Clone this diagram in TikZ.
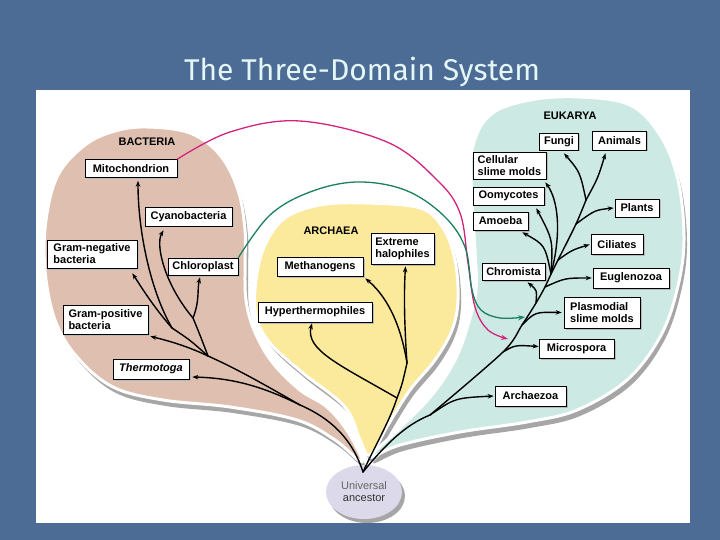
\documentclass[tikz,border=0pt]{standalone}
\usepackage{fontspec}
\setmainfont{Liberation Sans}
\newfontfamily\titlefont{Fira Sans}
\usetikzlibrary{arrows.meta,shapes.geometric,shadows}
\definecolor{bgblue}{HTML}{4C6C96}
\definecolor{titlec}{HTML}{E4F6F6}
\definecolor{bactc}{HTML}{DFC0B0}
\definecolor{archc}{HTML}{FBE99C}
\definecolor{eukc}{HTML}{CDE9E3}
\definecolor{ancc}{HTML}{DCD9EA}
\definecolor{shadc}{HTML}{A6A6A6}
\definecolor{magc}{HTML}{D4237D}
\definecolor{grnc}{HTML}{1B8060}
\tikzset{
  box/.style={draw=black, line width=0.6pt, fill=white, inner sep=0pt, align=left,
    font=\fontsize{11}{12}\selectfont\bfseries,
    general shadow={fill=gray!55, shadow xshift=1.5pt, shadow yshift=-1.5pt}},
  sz/.style 2 args={minimum width=#1pt, minimum height=#2pt},
  domlbl/.style={font=\fontsize{11}{12}\selectfont\bfseries, inner sep=0pt},
  tree/.style={line width=1.4pt, black, line cap=round, line join=round},
  arr/.style={tree, -{Stealth[length=6pt,width=4.5pt]}},
  blob/.style={draw=white, line width=3pt, line join=round}
}
\begin{document}
\begin{tikzpicture}[x=1pt,y=-1pt]
\useasboundingbox (0,0) rectangle (720,540);
\fill[bgblue] (0,0) rectangle (720,540);
\node[font=\titlefont\fontsize{30}{36}\selectfont, text=titlec] (title) at (362,72) {The Three-Domain System};
\fill[white] (36,90) rectangle (690,523);

% bacteria
\path[blob, fill=bactc, preaction={fill=shadc, transform canvas={shift={(3pt,-6pt)}}}]
  plot[smooth cycle, tension=0.6] coordinates {(147,127) (190,133) (220,155) (238,190) (245,230) (245,265) (246,300) (254,330) (272,362) (300,390) (327,407) (348,432) (362,462) (335,440) (297,420) (230,407) (163,400) (113,387) (77,357) (55,320) (45,270) (46,220) (58,175) (85,145) (115,131)};
% archaea
\path[blob, fill=archc, preaction={fill=shadc, transform canvas={shift={(3pt,-6pt)}}}]
  plot[smooth cycle, tension=0.6] coordinates {(365,203) (420,208) (443,228) (455,260) (458,300) (452,330) (435,360) (410,390) (388,425) (370,455) (360,440) (345,407) (303,373) (270,343) (256,315) (256,280) (265,245) (285,218) (320,205)};
% eukarya
\path[blob, fill=eukc, preaction={fill=shadc, transform canvas={shift={(3pt,-6pt)}}}]
  plot[smooth cycle, tension=0.6] coordinates {(472,150) (490,115) (530,100) (580,97) (630,105) (660,135) (678,180) (684,240) (677,290) (660,337) (627,380) (577,410) (527,422) (460,432) (400,445) (370,457) (400,428) (432,395) (455,360) (468,325) (476,290) (475,250) (472,200)};

% ancestor
\node[ellipse, fill=ancc, minimum width=76pt, minimum height=54pt, inner sep=0pt,
  general shadow={fill=shadc, shadow xshift=3pt, shadow yshift=-4pt},
  font=\fontsize{11}{12}\selectfont, text=black!80, align=center] (anc) at (364,492)
  {\textcolor{black!60}{Universal}\\ancestor};

% domain labels
\node[domlbl] (bact) at (147,142) {BACTERIA};
\node[domlbl] (arch) at (331,231) {ARCHAEA};
\node[domlbl] (euk) at (570,116) {EUKARYA};

% bacteria boxes
\node[box, sz={92}{18}] (mito) at (131,168.5) {Mitochondrion};
\node[box, sz={87}{19}] (cyano) at (188.5,216.5) {Cyanobacteria};
\node[box, sz={90}{28}] (gneg) at (92,254) {Gram-negative\\bacteria};
\node[box, sz={70}{17}] (chloro) at (203,266.5) {Chloroplast};
\node[box, sz={85}{29}] (gpos) at (105.5,319.5) {Gram-positive\\bacteria};
\node[box, sz={76}{20}, font=\fontsize{11}{12}\selectfont\bfseries\itshape] (thermo) at (151,369) {Thermotoga};
% archaea boxes
\node[box, sz={86}{19}] (meth) at (320,266.5) {Methanogens};
\node[box, sz={63}{31}] (halo) at (402.5,248.5) {Extreme\\halophiles};
\node[box, sz={114}{20}] (hyper) at (315,312) {Hyperthermophiles};
% eukarya boxes
\node[box, sz={39}{17}] (fungi) at (559,141.5) {Fungi};
\node[box, sz={54}{19}] (anim) at (619.5,140.5) {Animals};
\node[box, sz={73}{27}] (cell) at (509.5,165.5) {Cellular\\slime molds};
\node[box, sz={71}{18}] (oomy) at (508.5,196) {Oomycotes};
\node[box, sz={55}{18}] (amoeba) at (500.5,221) {Amoeba};
\node[box, sz={44}{18}] (plants) at (637,208) {Plants};
\node[box, sz={52}{20}] (cil) at (617,244.5) {Ciliates};
\node[box, sz={63}{17}] (chrom) at (513.5,271.5) {Chromista};
\node[box, sz={76}{20}] (eugl) at (631,278) {Euglenozoa};
\node[box, sz={76}{31}] (plas) at (602,312.5) {Plasmodial\\slime molds};
\node[box, sz={75}{19}] (micro) at (576.5,348.5) {Microspora};
\node[box, sz={71}{20}] (archz) at (530.5,396) {Archaezoa};

% tree coordinates
\coordinate (root) at (363,472);
\coordinate (B0) at (300,405);
\coordinate (B1) at (208,356);
\coordinate (B2) at (172,328);
\coordinate (B3) at (193,318);
\coordinate (A0) at (397,398);
\coordinate (A1) at (407,363);
\coordinate (E0) at (430,415);
\coordinate (E1) at (503,352);
\coordinate (E2) at (522,325);
\coordinate (E3) at (536,303);
\coordinate (E4) at (545,287);
\coordinate (E5) at (551,274);
\coordinate (E6) at (558,260);
\coordinate (E7) at (576,224);
\coordinate (E8) at (586,200);
\coordinate (magtip) at (508,339);
\coordinate (grntip) at (525,317);

% endosymbiosis arrows
\draw[magc, line width=1.3pt, -{Stealth[length=7pt,width=5pt]}]
  plot[smooth, tension=0.6] coordinates {(mito.north east) (230,132) (300,121) (387,142) (437,180) (460,213) (468,263) (475,307) (488,330) (magtip)};
\draw[grnc, line width=1.3pt, -{Stealth[length=7pt,width=5pt]}]
  plot[smooth, tension=0.6] coordinates {(chloro.north east) (270,215) (310,192) (357,182) (405,190) (443,215) (465,247) (472,290) (481,310) (500,318) (grntip)};

% bacteria tree
\draw[tree] (root) .. controls (352,438) and (330,418) .. (B0);
\draw[tree] (B0) .. controls (260,382) and (235,368) .. (B1);
\draw[arr] (B0) .. controls (260,385) and (230,378) .. ([xshift=3pt,yshift=-8pt]thermo.east);
\draw[arr] (B1) .. controls (185,345) and (165,340) .. ([xshift=2pt,yshift=-2pt]gpos.south east);
\draw[tree] (B1) .. controls (190,340) .. (B2);
\draw[tree] (B1) .. controls (200,335) .. (B3);
\draw[arr] (B2) .. controls (152,305) and (140,285) .. ([xshift=-5pt,yshift=-5pt]gneg.south east);
\draw[arr] (B2) .. controls (150,290) and (138,230) .. ([xshift=7pt,yshift=-3pt]mito.south);
\draw[arr] (B3) .. controls (200,300) and (197,290) .. ([xshift=-3pt,yshift=-2pt]chloro.south);
\draw[arr] (B3) .. controls (165,285) and (155,245) .. ([xshift=-25pt,yshift=-4pt]cyano.south);

% archaea tree
\draw[tree] (root) .. controls (378,440) and (390,420) .. (A0);
\draw[tree] (A0) .. controls (402,385) .. (A1);
\draw[arr] (A0) .. controls (340,365) and (305,350) .. ([xshift=-3pt,yshift=-1pt]hyper.south);
\draw[arr] (A1) .. controls (404,320) and (404,290) .. ([xshift=3pt,yshift=-2pt]halo.south);
\draw[arr] (A1) .. controls (400,320) and (385,295) .. ([xshift=2pt,yshift=-2pt]meth.south east);

% eukarya tree
\draw[tree] (root) .. controls (385,445) and (405,425) .. (E0);
\draw[arr] (E0) .. controls (455,398) .. ([xshift=-1pt]archz.west);
\draw[tree] plot[smooth, tension=0.5] coordinates {(E0) (E1) (E2) (E3) (E4) (E5) (E6) (E7) (E8)};
\draw[arr] (E1) .. controls (515,345) .. ([yshift=2pt]micro.west);
\draw[arr] (E2) .. controls (535,312) .. ([xshift=-2pt]plas.west);
\draw[arr] (E3) .. controls (537,290) .. ([xshift=14pt,yshift=-2pt]chrom.south);
\draw[arr] (E4) .. controls (565,278) .. ([xshift=-1pt]eugl.west);
\draw[arr] (E5) .. controls (545,245) .. ([xshift=-6pt,yshift=-2pt]amoeba.south east);
\draw[arr] (E5) .. controls (553,240) .. ([xshift=-8pt,yshift=-3pt]oomy.south east);
\draw[arr] (E5) .. controls (562,232) and (558,200) .. ([xshift=-1pt,yshift=-3pt]cell.south east);
\draw[arr] (E6) .. controls (572,250) .. ([xshift=-1pt]cil.west);
\draw[arr] (E7) .. controls (595,210) .. ([xshift=-1pt]plants.west);
\draw[arr] (E8) .. controls (580,172) .. ([xshift=5pt,yshift=-3pt]fungi.south);
\draw[arr] (E8) .. controls (598,178) .. ([xshift=-14pt,yshift=-3pt]anim.south);
\end{tikzpicture}
\end{document}
